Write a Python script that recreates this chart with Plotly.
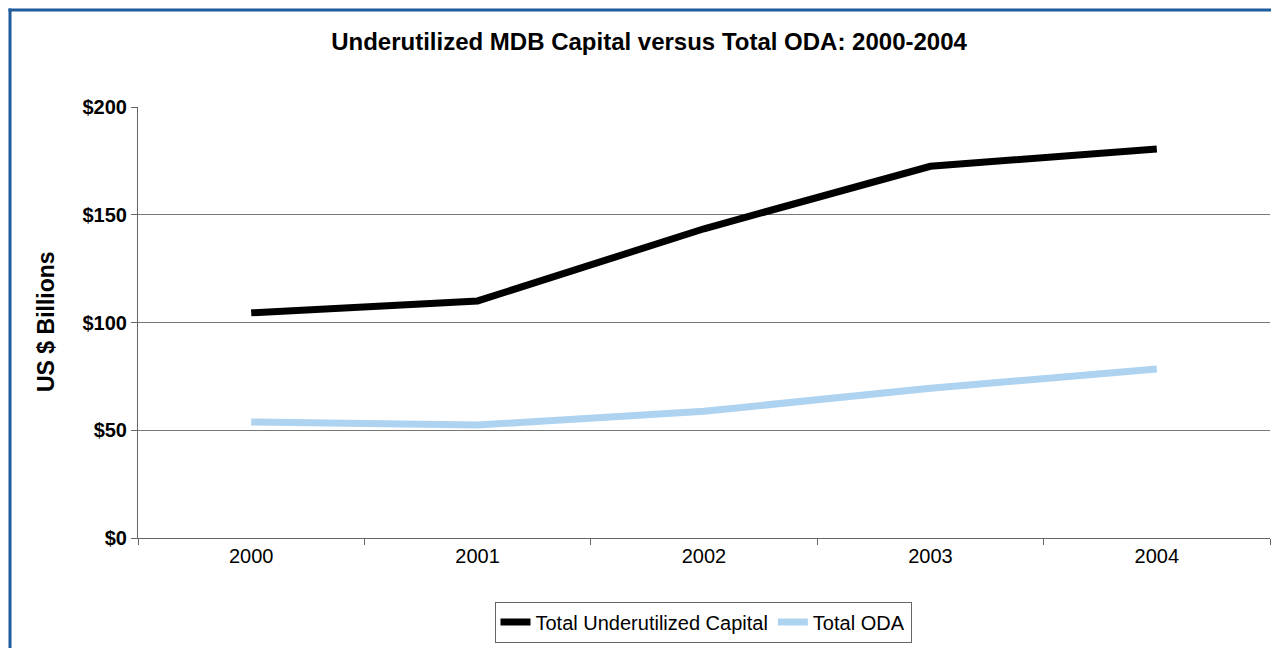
import plotly.graph_objects as go

years = ["2000", "2001", "2002", "2003", "2004"]
underutilized = [104.5, 110, 143.5, 172.5, 180.5]
oda = [53.8, 52.4, 58.8, 69.5, 78.4]
y_ticks = [0, 50, 100, 150, 200]
y_labels = ["$0", "$50", "$100", "$150", "$200"]

# page is rendered with an 8px body margin; work in page pixel coordinates
OFF = 8
W, H = 1279 - OFF, 648 - OFF
PL, PR, PT, PB = 138, 1270, 107, 538  # plot area in page pixels
L, T = PL - OFF, PT - OFF
R, B = W - (PR - OFF), H - (PB - OFF)
pw, ph = PR - PL, PB - PT

def px_x(p):
    return (p - PL) / pw

def px_y(p):
    return (PB - p) / ph

fig = go.Figure()
fig.add_trace(go.Scatter(x=years, y=underutilized, mode="lines", name="Total Underutilized Capital",
                         line=dict(color="#000000", width=7)))
fig.add_trace(go.Scatter(x=years, y=oda, mode="lines", name="Total ODA",
                         line=dict(color="#AED3F0", width=7)))

border = "#1F5C9E"
fig.add_shape(type="line", xref="paper", yref="paper", x0=px_x(10), x1=px_x(10), y0=px_y(8.5), y1=px_y(700),
              line=dict(color=border, width=3))
fig.add_shape(type="line", xref="paper", yref="paper", x0=px_x(8.5), x1=px_x(1300), y0=px_y(10), y1=px_y(10),
              line=dict(color=border, width=3))

fig.add_annotation(text="<b>US $ Billions</b>", xref="paper", yref="paper",
                   x=px_x(46), y=px_y(322), xanchor="center", yanchor="middle",
                   textangle=-90, showarrow=False, font=dict(size=23))

fig.update_layout(
    width=W, height=H,
    margin=dict(l=L, r=R, t=T, b=B, autoexpand=False),
    paper_bgcolor="white", plot_bgcolor="white",
    font=dict(family="Liberation Sans, Arial, sans-serif", color="#000000"),
    title=dict(text="<b>Underutilized MDB Capital versus Total ODA: 2000-2004</b>",
               x=px_x(649), xanchor="center", xref="paper", y=1 - (42 - OFF) / H, yanchor="middle",
               font=dict(size=24)),
    showlegend=True,
    legend=dict(orientation="h", x=px_x(703), xanchor="center", y=px_y(622), yanchor="middle",
                bordercolor="#666666", borderwidth=1, bgcolor="white",
                font=dict(size=20), itemwidth=30, tracegroupgap=0),
    xaxis=dict(type="category", range=[-0.5, 4.5], tickson="boundaries",
               ticks="outside", ticklen=6, tickcolor="#666666",
               showline=True, linecolor="#666666", linewidth=1,
               showgrid=False, tickfont=dict(size=20), zeroline=False,
               fixedrange=True, automargin=False),
    yaxis=dict(range=[0, 200], tickvals=y_ticks, ticktext=y_labels,
               ticks="outside", ticklen=6, tickcolor="#666666",
               showline=True, linecolor="#666666", linewidth=1,
               showgrid=True, gridcolor="#777777", gridwidth=1, zeroline=False,
               tickfont=dict(size=20, weight="bold"), automargin=False),
)
fig.write_html("out.html")
